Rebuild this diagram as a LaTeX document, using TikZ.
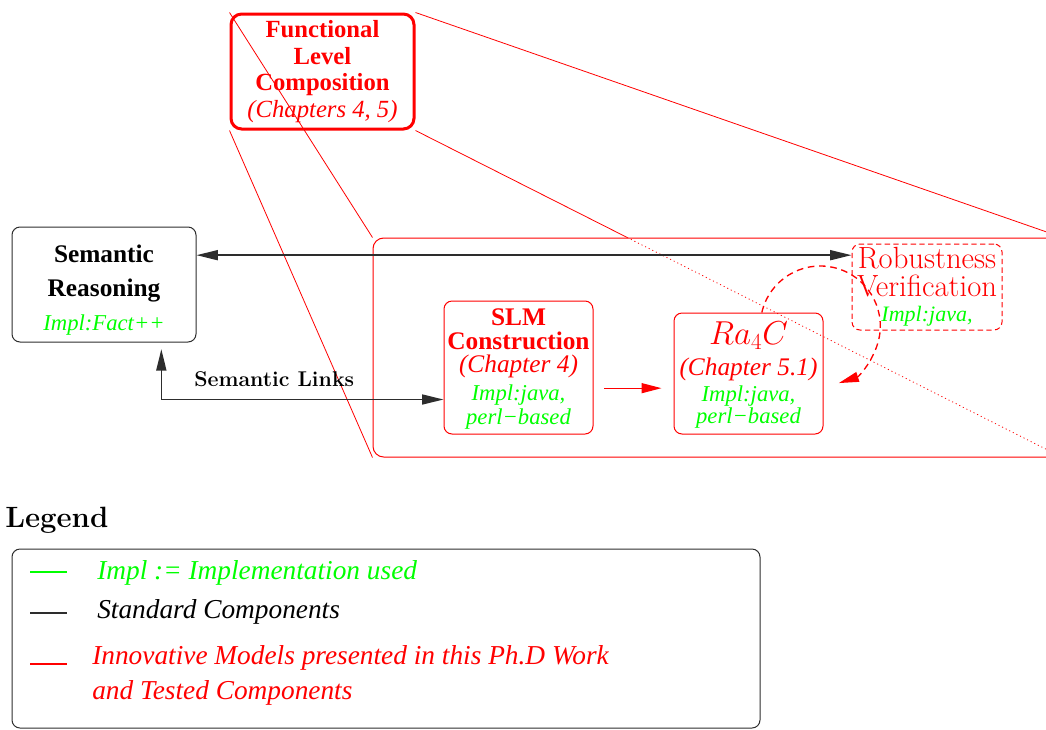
\documentclass[tikz,border=0pt]{standalone}
\usepackage{fontspec}
\usetikzlibrary{arrows.meta, calc}
\newfontfamily\tms{Liberation Serif}
\definecolor{compc}{RGB}{255,0,0}
\definecolor{implc}{RGB}{0,255,0}
\definecolor{stdc}{RGB}{45,45,45}
\newcommand{\implfont}{\tms\mdseries\itshape\fontsize{17}{18}\selectfont\color{implc}}
\newcommand{\chapfont}{\tms\mdseries\itshape}
\tikzset{
  box/.style={
    rectangle, rounded corners=6pt, draw, line width=0.75pt,
    align=center, inner sep=1pt
  },
  std/.style={box, draw=stdc, text=black},
  comp/.style={box, draw=compc, text=compc},
  flcbox/.style={comp, line width=2.25pt, rounded corners=8pt},
  frame/.style={rectangle, rounded corners=8pt, draw=compc, line width=0.75pt},
  future/.style={comp, dash pattern=on 4pt off 2.5pt},
  proj/.style={draw=compc, line width=0.6pt},
  hidden/.style={dash pattern=on 0.8pt off 2.2pt},
  arr/.style={{Triangle[length=16pt, width=7.5pt]}-{Triangle[length=16pt, width=7.5pt]},
              line width=1.1pt, draw=stdc},
  redarr/.style={-{Triangle[length=15pt, width=7.5pt]}, line width=1pt, draw=compc, fill=compc},
  lbl/.style={font=\bfseries\fontsize{16}{18}\selectfont, text=black, inner sep=2pt},
  keytext/.style={anchor=base west, align=left, inner sep=0pt,
                  font=\tms\itshape\fontsize{20.5}{26}\selectfont},
  keyline/.style={line width=1.1pt},
}

\begin{document}
\begin{tikzpicture}[x=0.75pt, y=0.75pt]
  \useasboundingbox (0,0) rectangle (1046,-729);

  % the zoomed-in part of the composition level
  \node[frame, minimum width=516.75pt, minimum height=164.25pt] (zoom) at (717.5,-347.5) {};

  \node[flcbox, minimum width=137.25pt, minimum height=86.25pt,
        font=\tms\bfseries\fontsize{18.5}{20}\selectfont] (flc) at (322.5,-71.5)
    {Functional\\ Level\\ Composition\\ {\chapfont (Chapters 4, 5)}};

  % projection from the small box onto the frame
  \draw[proj] (flc.north west) -- (zoom.north west);
  \draw[proj] (flc.south west) -- (zoom.south west);
  \draw[proj] (flc.north east) -- (zoom.north east);
  \coordinate (cut) at (intersection of flc.south east--zoom.south east and zoom.north west--zoom.north east);
  \draw[proj] (flc.south east) -- (cut);
  \draw[proj, hidden] (cut) -- (zoom.south east);

  \node[std, minimum width=138pt, minimum height=86.25pt,
        font=\tms\bfseries\fontsize{19}{25.5}\selectfont] (sr) at (104,-284.5)
    {\rule{0pt}{22pt}Semantic\\ Reasoning\\ {\implfont Impl:Fact++}};

  \node[comp, minimum width=111.75pt, minimum height=99.75pt,
        font=\tms\bfseries\fontsize{19}{17.5}\selectfont] (slm) at (518.5,-367.5)
    {\rule{0pt}{15pt}SLM\\ Construction\\ {\chapfont (Chapter 4)}\\[3.5pt]
     {\implfont Impl:java,}\\[0.5pt] {\implfont perl−based}};

  \node[comp, minimum width=111.75pt, minimum height=90.75pt,
        font=\tms\fontsize{19}{17.5}\selectfont] (ra) at (748.5,-373.5)
    {{\rmfamily\fontsize{23}{23}\selectfont\rule{0pt}{20pt}$Ra_4C$}\\[5.75pt]
     {\itshape (Chapter 5.1)}\\[2pt]
     {\implfont Impl:java,}\\[-1pt] {\implfont perl−based}};

  \node[future, minimum width=112.5pt, minimum height=64.5pt,
        font=\fontsize{23}{21}\selectfont] (rv) at (927,-287)
    {Robustness\\ Verification\\[-2.25pt] {\implfont\fontsize{16.5}{18}\selectfont Impl:java,}};

  % links between the components
  \coordinate (srtop) at ([yshift=22pt]sr.east);
  \draw[arr] (srtop) -- (srtop -| rv.west);
  \draw[arr, shorten >=5pt] ([yshift=-24pt]slm.west) -| ([xshift=43pt]sr.south)
    node[lbl, pos=0.3, above=7pt] {Semantic Links};
  \coordinate (slmout) at ([yshift=-15.5pt]slm.east);
  \draw[redarr, shorten <=8pt, shorten >=9pt] (slmout) -- (slmout -| ra.west);
  \draw[redarr, dash pattern=on 5pt off 3.5pt, fill=none]
    ([xshift=10pt]ra.north) arc[start angle=167, end angle=-72, radius=45pt];

  % legend
  \node[anchor=base west, inner sep=0pt, font=\bfseries\fontsize{22}{26}\selectfont] (legend) at (5,-527) {Legend};
  \node[std, minimum width=561pt, minimum height=134.25pt] (key) at (386,-638.5) {};
  \node[keytext, text=implc] (kimpl) at (97,-579) {Impl := Implementation used};
  \node[keytext, text=black] (kstd) at (97,-618) {Standard Components};
  \node[keytext, text=compc] (kcomp) at (92,-699)
    {Innovative Models presented in this Ph.D Work\\ and Tested Components};
  \draw[keyline, draw=implc] (30,-572) -- (67,-572);
  \draw[keyline, draw=stdc] (30,-613) -- (67,-613);
  \draw[keyline, draw=compc] (30,-664) -- (67,-664);
\end{tikzpicture}
\end{document}
